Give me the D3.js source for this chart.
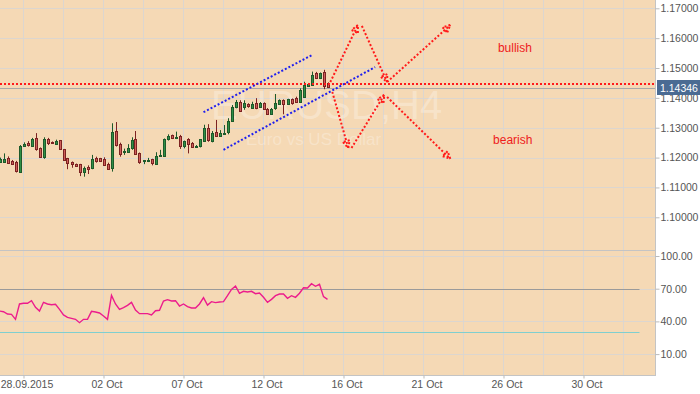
<!DOCTYPE html>
<html>
<head>
<meta charset="utf-8">
<script src="https://cdn.jsdelivr.net/npm/d3@7"></script>
<style>
  body { margin: 0; background: #fff; }
  svg { display: block; font-family: "Liberation Sans", Arial, sans-serif; }
  .axis text { fill: #555; font-size: 10.5px; }
  .axis line { stroke: #bbb; }
  .axis path { display: none; }
</style>
</head>
<body>
<div id="chart"></div>
<script>
// EURUSD H4 bars, index 0 = first visible bar
const opens = [1.1185,1.1185,1.1200,1.1190,1.1186,1.1153,1.1239,1.1249,1.1241,1.1266,
  1.1232,1.1203,1.1263,1.1252,1.1247,1.1258,1.1228,1.1198,1.1185,1.1179,
  1.1178,1.1151,1.1170,1.1163,1.1199,1.1198,1.1194,1.1179,1.1164,1.1288,
  1.1246,1.1218,1.1219,1.1233,1.1262,1.1215,1.1188,1.1188,1.1194,1.1179,
  1.1204,1.1206,1.1261,1.1276,1.1265,1.1272,1.1239,1.1261,1.1250,1.1237,
  1.1237,1.1256,1.1300,1.1257,1.1286,1.1273,1.1279,1.1285,1.1323,1.1369,
  1.1386,1.1369,1.1379,1.1369,1.1383,1.1369,1.1382,1.1364,1.1347,1.1365,
  1.1380,1.1393,1.1379,1.1395,1.1401,1.1386,1.1404,1.1440,1.1443,1.1482,
  1.1466,1.1485,1.1449];
const highs = [1.1200,1.1214,1.1204,1.1192,1.1189,1.1242,1.1251,1.1255,1.1266,1.1282,
  1.1234,1.1268,1.1266,1.1254,1.1260,1.1259,1.1229,1.1199,1.1187,1.1180,
  1.1179,1.1170,1.1174,1.1209,1.1203,1.1199,1.1201,1.1183,1.1315,1.1319,
  1.1250,1.1230,1.1245,1.1268,1.1289,1.1217,1.1192,1.1199,1.1196,1.1218,
  1.1226,1.1264,1.1278,1.1277,1.1287,1.1276,1.1257,1.1265,1.1252,1.1242,
  1.1262,1.1310,1.1312,1.1289,1.1326,1.1292,1.1309,1.1332,1.1376,1.1393,
  1.1392,1.1392,1.1382,1.1387,1.1399,1.1386,1.1385,1.1366,1.1366,1.1413,
  1.1395,1.1395,1.1397,1.1398,1.1404,1.1432,1.1454,1.1450,1.1488,1.1487,
  1.1485,1.1494,1.1452];
const lows = [1.1182,1.1182,1.1180,1.1179,1.1150,1.1150,1.1236,1.1237,1.1239,1.1223,
  1.1199,1.1196,1.1242,1.1246,1.1243,1.1226,1.1189,1.1161,1.1166,1.1170,
  1.1138,1.1136,1.1145,1.1161,1.1183,1.1186,1.1172,1.1159,1.1153,1.1237,
  1.1203,1.1209,1.1217,1.1226,1.1209,1.1179,1.1178,1.1185,1.1174,1.1176,
  1.1203,1.1205,1.1257,1.1262,1.1262,1.1229,1.1231,1.1214,1.1234,1.1234,
  1.1234,1.1253,1.1253,1.1251,1.1270,1.1270,1.1276,1.1278,1.1320,1.1365,
  1.1354,1.1360,1.1367,1.1365,1.1362,1.1366,1.1360,1.1345,1.1345,1.1360,
  1.1377,1.1345,1.1376,1.1377,1.1384,1.1384,1.1402,1.1437,1.1440,1.1463,
  1.1463,1.1429,1.1433];
const closes = [1.1196,1.1195,1.1183,1.1181,1.1155,1.1239,1.1247,1.1241,1.1263,1.1228,
  1.1203,1.1262,1.1248,1.1248,1.1256,1.1228,1.1192,1.1181,1.1178,1.1173,
  1.1151,1.1164,1.1163,1.1194,1.1188,1.1189,1.1174,1.1163,1.1286,1.1240,
  1.1211,1.1221,1.1233,1.1259,1.1211,1.1186,1.1191,1.1193,1.1179,1.1205,
  1.1209,1.1262,1.1272,1.1265,1.1269,1.1239,1.1256,1.1245,1.1237,1.1240,
  1.1261,1.1298,1.1259,1.1284,1.1272,1.1284,1.1284,1.1323,1.1369,1.1387,
  1.1357,1.1382,1.1373,1.1381,1.1365,1.1382,1.1362,1.1347,1.1363,1.1382,
  1.1392,1.1379,1.1395,1.1382,1.1386,1.1427,1.1443,1.1446,1.1477,1.1466,
  1.1482,1.1438,1.14346];
const rsi = [49.5,48.9,46.8,46.5,41.9,56.0,56.6,56.6,59.0,52.9,
  49.5,57.5,56.0,55.3,55.7,51.1,45.9,43.7,42.8,41.9,
  38.8,41.9,41.9,49.2,48.6,47.7,45.0,41.9,63.9,56.0,
  51.1,52.6,54.7,57.5,50.5,47.1,47.1,47.1,45.9,49.8,
  50.2,58.7,59.9,58.7,59.0,54.1,56.0,53.5,52.3,52.3,
  56.0,61.8,55.0,58.1,57.2,57.8,58.1,63.6,69.4,72.5,
  65.8,67.6,67.0,67.6,65.4,66.1,62.1,57.5,60.2,63.6,
  65.1,65.1,61.2,63.6,62.1,65.8,70.9,70.6,74.6,72.2,
  74.0,62.7,60.2];

// axis ticks
const priceTicks = [1.10, 1.11, 1.12, 1.13, 1.14, 1.15, 1.16, 1.17];
const rsiTicks = [100, 70, 40, 10];
const rsiLevels = [70, 30];
const dateTickBars = [6, 26, 46, 66, 86, 106, 126, 146];
const dateTickLabels = ['28.09.2015', '02 Oct', '07 Oct', '12 Oct', '16 Oct', '21 Oct', '26 Oct', '30 Oct'];

// chart objects drawn on the chart (bar index, price)
const alertLevel = 1.1446;
const channelLines = [[51.0, 1.1352, 78.2, 1.1544], [56.0, 1.1226, 93.9, 1.1503]];
const bullishArrows = [[82.7, 1.1453, 89.6, 1.1644], [90.6, 1.1641, 96.9, 1.1453], [96.9, 1.1453, 112.7, 1.1644]];
const bearishArrows = [[83.2, 1.1420, 87.2, 1.1232], [88.0, 1.1232, 96.2, 1.1410], [96.9, 1.1403, 112.7, 1.1196]];
const scenarioLabels = [['bullish', 124.6, 1.1554], ['bearish', 123.4, 1.1246]];

const width = 700, height = 394;
const plotRight = 655;
const mainTop = 0, mainBottom = 250;
const rsiTop = 251, rsiBottom = 375;
const bg = '#f5d9b5';

const svg = d3.select('#chart').append('svg')
  .attr('width', width).attr('height', height);

const x = d3.scaleLinear().domain([0, 164]).range([-0.5, 655.5]);
const y = d3.scaleLinear().domain([1.10, 1.17]).range([217.3, 8.3]);
const yr = d3.scaleLinear().domain([10, 100]).range([354.1, 256]);

// panels
svg.append('rect').attr('x', 0).attr('y', mainTop).attr('width', plotRight).attr('height', mainBottom - mainTop).attr('fill', bg);
svg.append('rect').attr('x', 0).attr('y', rsiTop).attr('width', plotRight).attr('height', rsiBottom - rsiTop).attr('fill', bg);

// grid
const vGrid = d3.range(6, 160, 10);
svg.append('g').selectAll('line').data(vGrid).enter().append('line')
  .attr('x1', d => x(d)).attr('x2', d => x(d))
  .attr('y1', mainTop).attr('y2', rsiBottom)
  .attr('stroke', '#dcd6cf').attr('stroke-width', 1);
svg.append('g').selectAll('line').data(priceTicks).enter().append('line')
  .attr('x1', 0).attr('x2', plotRight)
  .attr('y1', d => Math.round(y(d)) + 0.5).attr('y2', d => Math.round(y(d)) + 0.5)
  .attr('stroke', '#dcd6cf');
svg.append('g').selectAll('line').data(rsiTicks).enter().append('line')
  .attr('x1', 0).attr('x2', plotRight)
  .attr('y1', d => Math.round(yr(d)) + 0.5).attr('y2', d => Math.round(yr(d)) + 0.5)
  .attr('stroke', '#dcd6cf');

// watermark
svg.append('text').attr('x', 211).attr('y', 119).text('EURUSD,H4')
  .attr('font-size', 40).attr('fill', '#fff').attr('fill-opacity', 0.28);
svg.append('text').attr('x', 246).attr('y', 145).text('Euro vs US Dollar')
  .attr('font-size', 17).attr('fill', '#fff').attr('fill-opacity', 0.28);

// current price line
const last = closes[closes.length - 1];
svg.append('line').attr('x1', 0).attr('x2', plotRight)
  .attr('y1', Math.round(y(last)) + 0.5).attr('y2', Math.round(y(last)) + 0.5)
  .attr('stroke', '#a8a8a8');

// candles
const bars = opens.map((o, i) => ({ i, o, h: highs[i], l: lows[i], c: closes[i] }));
const candle = svg.append('g').selectAll('g').data(bars).enter().append('g');
candle.append('line')
  .attr('x1', d => Math.round(x(d.i)) + 0.5).attr('x2', d => Math.round(x(d.i)) + 0.5)
  .attr('y1', d => y(d.h)).attr('y2', d => y(d.l))
  .attr('stroke', d => d.c >= d.o ? '#1d5a2b' : '#7c2222');
candle.append('rect')
  .attr('x', d => Math.round(x(d.i)) - 0.5).attr('width', 2)
  .attr('y', d => Math.round(y(Math.max(d.o, d.c))) + 0.5)
  .attr('height', d => Math.max(1, Math.round(Math.abs(y(d.o) - y(d.c)))))
  .attr('fill', d => d.c >= d.o ? '#2f8f46' : '#cf5f5a')
  .attr('stroke', d => d.c >= d.o ? '#1d5a2b' : '#7c2222');

// dotted objects
const dotted = (sel, color) => sel.attr('stroke', color).attr('stroke-width', 2)
  .attr('stroke-dasharray', '2,2').attr('fill', 'none');

dotted(svg.append('line').attr('x1', 0).attr('x2', plotRight)
  .attr('y1', Math.round(y(alertLevel))).attr('y2', Math.round(y(alertLevel))), '#ff1a1a');

svg.append('g').selectAll('line').data(channelLines).enter().append('line')
  .attr('x1', d => x(d[0])).attr('y1', d => y(d[1]))
  .attr('x2', d => x(d[2])).attr('y2', d => y(d[3]))
  .call(s => dotted(s, '#2020ee'));

function drawArrows(list) {
  const g = svg.append('g');
  list.forEach(a => {
    const x1 = x(a[0]), y1 = y(a[1]), x2 = x(a[2]), y2 = y(a[3]);
    dotted(g.append('line').attr('x1', x1).attr('y1', y1).attr('x2', x2).attr('y2', y2), '#ff1a1a');
    const ang = Math.atan2(y2 - y1, x2 - x1);
    const len = 8, spread = 0.45;
    const p1 = [x2 - len * Math.cos(ang - spread), y2 - len * Math.sin(ang - spread)];
    const p2 = [x2 - len * Math.cos(ang + spread), y2 - len * Math.sin(ang + spread)];
    dotted(g.append('path').attr('d', `M${p1}L${x2},${y2}L${p2}Z`), '#ff1a1a');
  });
}
drawArrows(bullishArrows);
drawArrows(bearishArrows);

svg.append('g').selectAll('text').data(scenarioLabels).enter().append('text')
  .attr('x', d => x(d[1])).attr('y', d => y(d[2]))
  .text(d => d[0]).attr('fill', '#ee1c1c').attr('font-size', 12);

// RSI levels and line
svg.append('g').selectAll('line').data(rsiLevels).enter().append('line')
  .attr('x1', x(0)).attr('x2', x(160))
  .attr('y1', d => Math.round(yr(d)) + 0.5).attr('y2', d => Math.round(yr(d)) + 0.5)
  .attr('stroke', (d, i) => i === 0 ? '#9a9a9a' : '#7fcfcf');
svg.append('path').datum(rsi)
  .attr('d', d3.line().x((d, i) => x(i)).y(d => yr(d)))
  .attr('fill', 'none').attr('stroke', '#ec1c8c').attr('stroke-width', 1.4);

// borders
svg.append('line').attr('x1', 0).attr('x2', plotRight).attr('y1', 250.5).attr('y2', 250.5).attr('stroke', '#c4c4c4');
svg.append('line').attr('x1', 0).attr('x2', plotRight).attr('y1', rsiBottom + 0.5).attr('y2', rsiBottom + 0.5).attr('stroke', '#c4c4c4');
svg.append('line').attr('x1', plotRight + 0.5).attr('x2', plotRight + 0.5).attr('y1', 0).attr('y2', rsiBottom + 1).attr('stroke', '#c4c4c4');

// axes
svg.append('g').attr('class', 'axis').attr('transform', `translate(${plotRight + 0.5},0)`)
  .call(d3.axisRight(y).tickValues(priceTicks).tickSize(4).tickPadding(1).tickFormat(d3.format('.5f')));
svg.append('g').attr('class', 'axis').attr('transform', `translate(${plotRight + 0.5},0)`)
  .call(d3.axisRight(yr).tickValues(rsiTicks).tickSize(4).tickPadding(1).tickFormat(d3.format('.2f')));
svg.append('g').attr('class', 'axis').attr('transform', `translate(0,${rsiBottom + 0.5})`)
  .call(d3.axisBottom(x).tickValues(dateTickBars).tickSize(3).tickPadding(2).tickFormat((d, i) => dateTickLabels[i]))
  .selectAll('text').attr('dx', 3);

// current price tag (covers the top of the 1.14000 label, as in MT4)
svg.append('rect').attr('x', 657).attr('y', Math.round(y(last)) - 8).attr('width', 43).attr('height', 15).attr('fill', '#4a6b93');
svg.append('text').attr('x', 660).attr('y', Math.round(y(last)) + 3.5).text(d3.format('.5f')(last))
  .attr('fill', '#fff').attr('font-size', 10.5);
</script>
</body>
</html>
